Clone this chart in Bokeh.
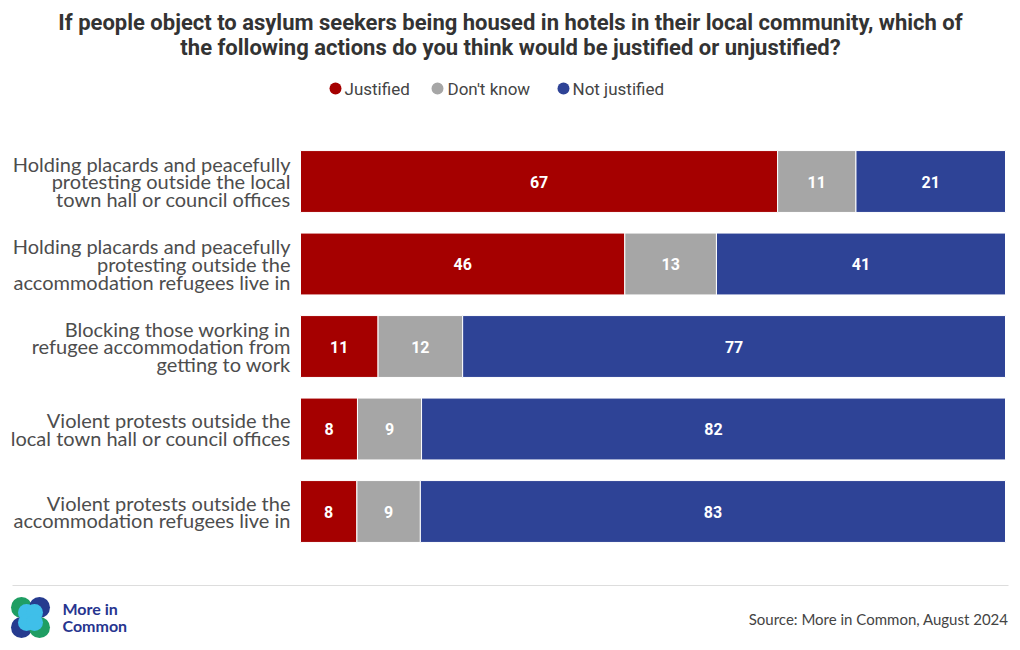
from bokeh.plotting import figure
from bokeh.models import Range1d, ColumnDataSource
from bokeh.core.properties import value
from bokeh.embed import file_html
from bokeh.resources import INLINE

# ---------------- data ----------------
categories = [
    "Holding placards and peacefully\nprotesting outside the local\ntown hall or council offices",
    "Holding placards and peacefully\nprotesting outside the\naccommodation refugees live in",
    "Blocking those working in\nrefugee accommodation from\ngetting to work",
    "Violent protests outside the\nlocal town hall or council offices",
    "Violent protests outside the\naccommodation refugees live in",
]
justified = [67, 46, 11, 8, 8]
dont_know = [11, 13, 12, 9, 9]
not_justified = [21, 41, 77, 82, 83]
series_names = ["Justified", "Don't know", "Not justified"]
series_colors = ["#a50000", "#a6a6a6", "#2e4396"]

title_lines = [
    "If people object to asylum seekers being housed in hotels in their local community, which of",
    "the following actions do you think would be justified or unjustified?",
]
source_text = "Source: More in Common, August 2024"

# ---------------- geometry helpers (page px -> data) ----------------
W, H = 1016, 646
OFF = 0                   # page offset of the figure
X0, XS = 300.0, 7.05      # page x of value 0, px per unit
Y0, YS = 181.0, 82.5      # page y of first category, px per category


def X(px):
    return (px - X0) / XS


def Y(py):
    return (py - Y0) / YS


p = figure(width=W, height=H, output_backend="svg", toolbar_location=None,
           x_range=Range1d(X(OFF), X(OFF + W)), y_range=Range1d(Y(OFF + H), Y(OFF)),
           min_border=0, outline_line_color=None, background_fill_color="white",
           border_fill_color="white")
p.axis.visible = False
p.grid.visible = False

# ---------------- bars ----------------
idx = list(range(len(categories)))
series = [justified, dont_know, not_justified]
totals = [sum(v) for v in zip(*series)]
cum = [0.0] * len(idx)
for vals, name, col in zip(series, series_names, series_colors):
    left = [c for c in cum]
    right = [c + v / t * 100 for c, v, t in zip(cum, vals, totals)]
    mid = [(l + r) / 2 for l, r in zip(left, right)]
    src = ColumnDataSource(dict(y=idx, left=left, right=right, mid=mid,
                                lab=[str(v) for v in vals]))
    p.hbar(y="y", left="left", right="right", height=0.75, source=src,
           fill_color=col, line_color="white", line_width=1)
    p.text(x="mid", y="y", text="lab", source=src, text_align="center",
           text_baseline="middle", text_color="white", text_font=value("Roboto"),
           text_font_style="bold", text_font_size="16px")
    cum = right

# category labels
p.text(x=[X(290)] * len(idx), y=idx, text=categories, text_align="right",
       text_baseline="middle", text_color="#4d4d4d", text_font=value("Lato"),
       text_font_size="20px", text_line_height=0.73)

# ---------------- title ----------------
p.text(x=[X(510)] * 2, y=[Y(22), Y(47)], text=title_lines, text_align="center",
       text_baseline="middle", text_color="#333333",
       text_font=value("Roboto"), text_font_style="bold",
       text_font_size="22px")

# ---------------- legend ----------------
leg_dot_x = [335, 437, 563]
leg_txt_x = [344, 447, 572]
p.scatter(x=[X(v) for v in leg_dot_x], y=[Y(88)] * 3, marker="circle", size=12,
          fill_color=series_colors, line_color=None)
p.text(x=[X(v) for v in leg_txt_x], y=[Y(88)] * 3, text=series_names,
       text_align="left", text_baseline="middle", text_color="#444444",
       text_font=value("Roboto"), text_font_size="17px")

# ---------------- footer ----------------
p.segment(x0=[X(12)], y0=[Y(585)], x1=[X(1008)], y1=[Y(585)],
          line_color="#dddddd", line_width=1)
p.text(x=[X(1008)], y=[Y(618)], text=[source_text], text_align="right",
       text_baseline="middle", text_color="#444444", text_font=value("Lato"),
       text_font_size="15px")

# logo
green, navy, cyan = "#1f9e63", "#263b8f", "#3fbfe9"
p.scatter(x=[X(21), X(39), X(21), X(39)], y=[Y(607), Y(607), Y(627), Y(627)],
          marker="circle", size=21, fill_color=[green, navy, navy, green],
          line_color=None)
p.scatter(x=[X(26), X(34), X(26), X(34)], y=[Y(612), Y(612), Y(622), Y(622)],
          marker="circle", size=17, fill_color=cyan, line_color=None)
p.text(x=[X(62), X(62)], y=[Y(608), Y(625)], text=["More in", "Common"],
       text_align="left", text_baseline="middle", text_color="#27358f",
       text_font=value("Lato"), text_font_style="bold", text_font_size="16px")

open("out.html", "w").write(file_html(p, INLINE))
